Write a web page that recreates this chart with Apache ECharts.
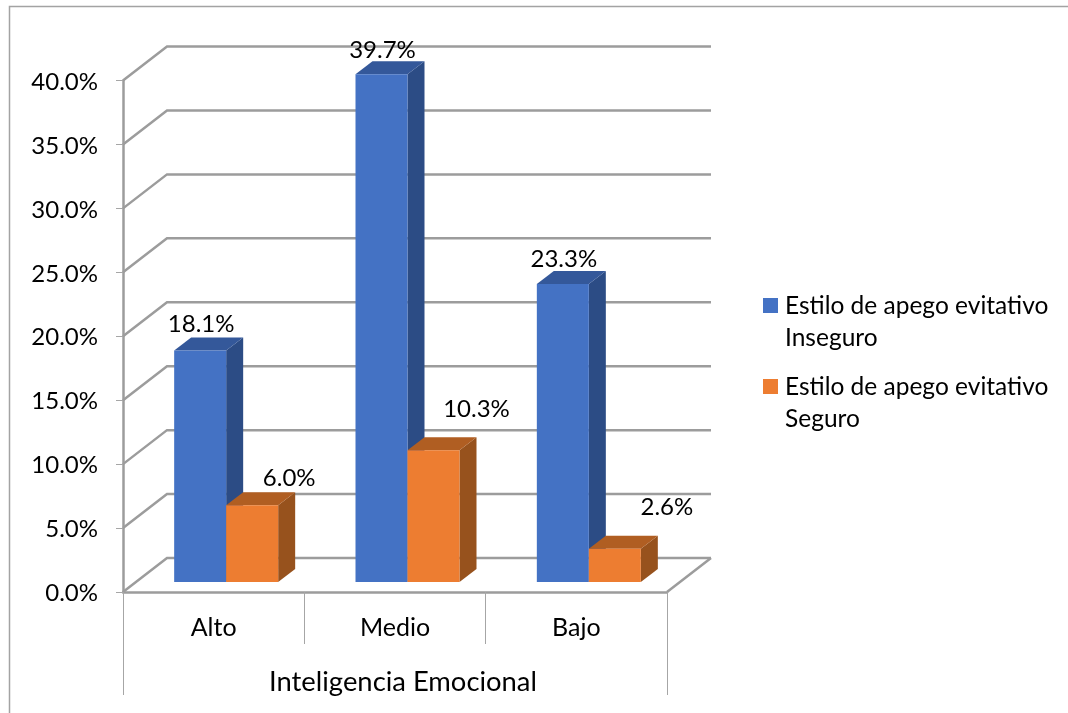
<!DOCTYPE html>
<html><head><meta charset="utf-8">
<style>html,body{margin:0;padding:0;background:#fff}#c{width:1068px;height:713px}</style>
<script src="https://cdn.jsdelivr.net/npm/echarts@6/dist/echarts.min.js"></script>
</head><body><div id="c"></div>
<script>
var categories = ['Alto', 'Medio', 'Bajo'];
var inseguro = [18.1, 39.7, 23.3];
var seguro = [6.0, 10.3, 2.6];
var yTicks = [0, 5, 10, 15, 20, 25, 30, 35, 40];
var seriesNames = ['Estilo de apego evitativo\nInseguro', 'Estilo de apego evitativo\nSeguro'];
var axisTitle = 'Inteligencia Emocional';

var FONT = 'Lato';
var GRID = '#9c9c9c';
var WALL_DX = 44, WALL_DY = -34;
var BAR_DX = 12.5, BAR_DY = -10, DEPTH_X = 17, DEPTH_Y = -13, BAR_W = 52;
var inseguroLabelOffsets = [[1, -26], [1, -24], [1, -25]];
var seguroLabelOffsets = [[37, -27], [43, -41], [52, -41]];
var inseguroShades = {front: '#4472C4', side: '#2C4C85', top: '#34589A'};
var seguroShades = {front: '#ED7D31', side: '#97521D', top: '#B05E22'};

function pct(v) { return v.toFixed(1) + '%'; }

function wallItem(params, api) {
  var v = api.value(0);
  var cs = params.coordSys;
  var y = api.coord([0, v])[1];
  var l = cs.x, r = cs.x + cs.width;
  var style = {stroke: GRID, lineWidth: 2.5, fill: null};
  var pts = [[l, y], [l + WALL_DX, y + WALL_DY], [r + WALL_DX, y + WALL_DY]];
  var kids = [{type: 'polyline', shape: {points: pts}, style: style}];
  if (v === 0) {
    kids.push({type: 'line', shape: {x1: r, y1: y, x2: r + WALL_DX, y2: y + WALL_DY}, style: style});
    var thin = {stroke: '#a6a6a6', lineWidth: 1};
    kids.push({type: 'line', shape: {x1: l + 0.5, y1: y, x2: l + 0.5, y2: y + 103}, style: thin});
    kids.push({type: 'line', shape: {x1: r + 0.5, y1: y, x2: r + 0.5, y2: y + 103}, style: thin});
  }
  return {type: 'group', children: kids};
}

function barRenderer(side, shades, offsets) {
  return function (params, api) {
    var c = api.value(0), v = api.value(1);
    var base = api.coord([c, 0]);
    var top = api.coord([c, v]);
    var x0 = base[0] + BAR_DX + (side < 0 ? -BAR_W : 0);
    var x1 = x0 + BAR_W;
    var yb = base[1] + BAR_DY, yt = top[1] + BAR_DY;
    var off = offsets[params.dataIndex];
    return {type: 'group', children: [
      {type: 'polygon', shape: {points: [[x1, yb], [x1 + DEPTH_X, yb + DEPTH_Y], [x1 + DEPTH_X, yt + DEPTH_Y], [x1, yt]]}, style: {fill: shades.side}},
      {type: 'polygon', shape: {points: [[x0, yt], [x0 + DEPTH_X, yt + DEPTH_Y], [x1 + DEPTH_X, yt + DEPTH_Y], [x1, yt]]}, style: {fill: shades.top}},
      {type: 'rect', shape: {x: x0, y: yt, width: BAR_W, height: yb - yt}, style: {fill: shades.front}},
      {type: 'text', z2: 10, style: {text: pct(v), x: (x0 + x1) / 2 + off[0], y: yt + off[1], align: 'center', verticalAlign: 'middle', fontFamily: FONT, fontSize: 24, fill: '#000'}}
    ]};
  };
}

function rows(vals) { return vals.map(function (v, i) { return [i, v]; }); }

var chart = echarts.init(document.getElementById('c'), null, {renderer: 'canvas'});
chart.setOption({
  animation: false,
  backgroundColor: '#fff',
  grid: {left: 123, right: 401, top: 80.5, bottom: 121, containLabel: false},
  graphic: [{type: 'rect', shape: {x: 9.5, y: 6.5, width: 1200, height: 900}, style: {fill: null, stroke: '#a3a3a3', lineWidth: 1.5}, z: -1}],
  legend: {
    left: 763, top: 290, padding: 0, orient: 'vertical', itemWidth: 17, itemHeight: 64, itemGap: 17, selectedMode: false,
    icon: 'path://M0 8H15V23H0Z M0 0L0 0 M17 64L17 64',
    data: seriesNames,
    textStyle: {fontFamily: FONT, fontSize: 24.5, lineHeight: 32, color: '#000'}
  },
  xAxis: {
    type: 'category', data: categories, name: axisTitle, nameLocation: 'middle', nameGap: 77,
    nameTextStyle: {fontFamily: FONT, fontSize: 27.4, color: '#000', padding: [0, 0, 0, 16]},
    axisLine: {lineStyle: {color: GRID, width: 2.5}},
    axisTick: {show: true, length: 52, alignWithLabel: false, lineStyle: {color: '#a6a6a6', width: 1}},
    axisLabel: {fontFamily: FONT, fontSize: 25, color: '#000', margin: 23},
    splitLine: {show: false}
  },
  yAxis: {
    type: 'value', min: 0, max: 40, interval: 5,
    axisLine: {show: true, lineStyle: {color: GRID, width: 2.5}},
    axisTick: {show: true, length: 7, lineStyle: {color: '#a6a6a6', width: 1}},
    axisLabel: {fontFamily: FONT, fontSize: 24, color: '#000', margin: 25, verticalAlign: 'top', lineHeight: 3, formatter: pct},
    splitLine: {show: false}
  },
  series: [
    {name: 'walls', type: 'custom', clip: false, z: 1, silent: true, renderItem: wallItem,
     data: yTicks.map(function (t) { return [t]; }), encode: {y: 0}},
    {name: seriesNames[0], type: 'custom', clip: false, z: 2, itemStyle: {color: inseguroShades.front},
     renderItem: barRenderer(-1, inseguroShades, inseguroLabelOffsets), data: rows(inseguro), encode: {x: 0, y: 1}},
    {name: seriesNames[1], type: 'custom', clip: false, z: 3, itemStyle: {color: seguroShades.front},
     renderItem: barRenderer(1, seguroShades, seguroLabelOffsets), data: rows(seguro), encode: {x: 0, y: 1}}
  ]
});
</script></body></html>
